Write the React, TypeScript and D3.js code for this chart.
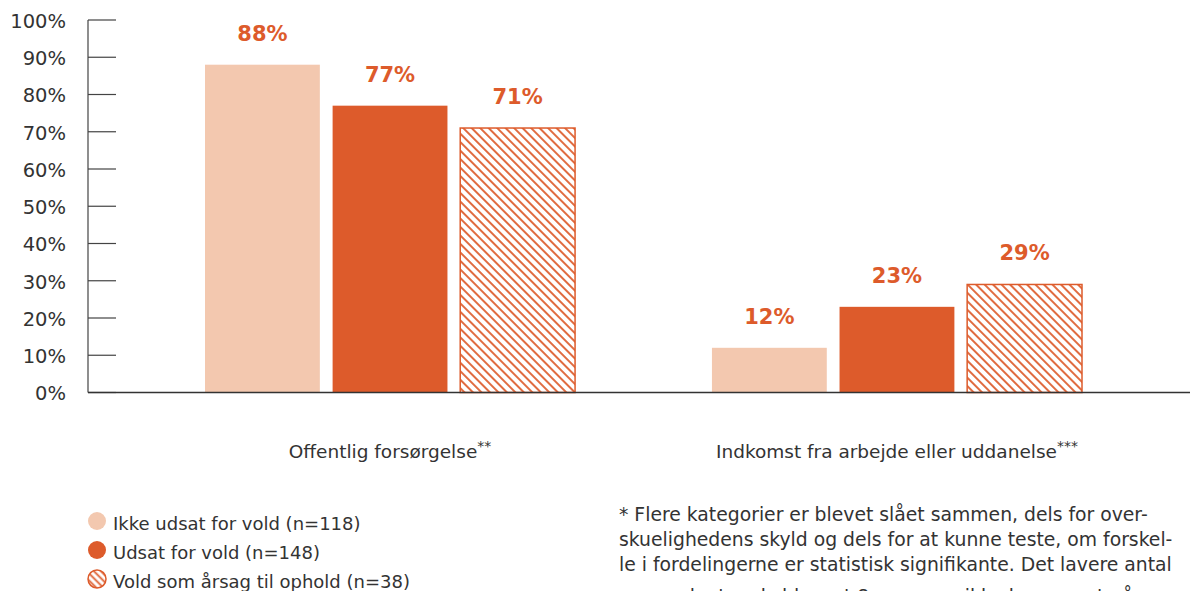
import React, { useEffect, useRef } from "react";
import * as d3 from "d3";

const categories = ["Offentlig forsørgelse", "Indkomst fra arbejde eller uddanelse"];
const categorySup = ["**", "***"];
const seriesNames = [
  "Ikke udsat for vold (n=118)",
  "Udsat for vold (n=148)",
  "Vold som årsag til ophold (n=38)",
];
const ikkeUdsat = [88, 12];
const udsat = [77, 23];
const voldAarsag = [71, 29];
const yTicks = [0, 10, 20, 30, 40, 50, 60, 70, 80, 90, 100];
const footnoteLines = [
  "* Flere kategorier er blevet slået sammen, dels for over-",
  "skuelighedens skyld og dels for at kunne teste, om forskel-",
  "le i fordelingerne er statistisk signifikante. Det lavere antal",
  "respondenter skyldes, at 8 personer ikke har svaret på",
];

const LIGHT = "#F3C8AF";
const ORANGE = "#DD5B2B";
const TEXT = "#333333";
const FONT = "'DejaVu Sans', sans-serif";

export default function App() {
  const ref = useRef<SVGSVGElement | null>(null);

  useEffect(() => {
    const svg = d3.select(ref.current);
    svg.selectAll("*").remove();
    const W = 1192, H = 591;

    const defs = svg.append("defs");
    const mkPattern = (id: string, size: number, sw: number) => {
      const p = defs
        .append("pattern")
        .attr("id", id)
        .attr("patternUnits", "userSpaceOnUse")
        .attr("width", size)
        .attr("height", size)
        .attr("patternTransform", "rotate(-45)");
      p.append("rect").attr("width", size).attr("height", size).attr("fill", "#fff");
      p.append("line").attr("x1", size / 2).attr("y1", 0).attr("x2", size / 2).attr("y2", size)
        .attr("stroke", ORANGE).attr("stroke-width", sw);
    };
    mkPattern("hatch", 6, 1.8);
    mkPattern("hatchL", 5, 1.8);

    const y = d3.scaleLinear().domain([0, 100]).range([392.5, 20]);
    const x0 = d3.scaleBand().domain(categories).range([205, 1082]).paddingInner(0.27).paddingOuter(0);
    const x1 = d3.scaleBand().domain(seriesNames).range([0, x0.bandwidth()]).paddingInner(0.1);

    const axisX = 88;
    svg.append("line").attr("x1", axisX).attr("x2", axisX).attr("y1", y(100)).attr("y2", y(0))
      .attr("stroke", "#444").attr("stroke-width", 1.2);
    yTicks.forEach((t) => {
      svg.append("line").attr("x1", axisX).attr("x2", 116).attr("y1", y(t)).attr("y2", y(t))
        .attr("stroke", "#444").attr("stroke-width", 1.2);
      svg.append("text").attr("x", 66).attr("y", y(t)).attr("dy", "0.4em")
        .attr("text-anchor", "end").attr("font-family", FONT).attr("font-size", 19.5)
        .attr("fill", TEXT).text(`${t}%`);
    });

    const series = [ikkeUdsat, udsat, voldAarsag];
    const fills = [LIGHT, ORANGE, "url(#hatch)"];
    categories.forEach((c, ci) => {
      series.forEach((vals, si) => {
        const v = vals[ci];
        const bx = (x0(c) as number) + (x1(seriesNames[si]) as number);
        svg.append("rect").attr("x", bx).attr("y", y(v)).attr("width", x1.bandwidth())
          .attr("height", y(0) - y(v)).attr("fill", fills[si])
          .attr("stroke", si === 2 ? ORANGE : "none").attr("stroke-width", si === 2 ? 1.5 : 0);
        svg.append("text").attr("x", bx + x1.bandwidth() / 2).attr("y", y(v) - 24)
          .attr("text-anchor", "middle").attr("font-family", FONT).attr("font-weight", "bold")
          .attr("font-size", 21).attr("fill", ORANGE).text(`${v}%`);
      });
      const cx = (x0(c) as number) + x0.bandwidth() / 2;
      const t = svg.append("text").attr("x", cx).attr("y", 458).attr("text-anchor", "middle")
        .attr("font-family", FONT).attr("font-size", 18.5).attr("fill", TEXT);
      t.append("tspan").text(c);
      t.append("tspan").attr("font-size", 14).attr("dy", -7).text(categorySup[ci]);
    });

    svg.append("line").attr("x1", axisX).attr("x2", 1190).attr("y1", y(0)).attr("y2", y(0))
      .attr("stroke", "#333").attr("stroke-width", 1.5);

    const legendFills = [LIGHT, ORANGE, "url(#hatchL)"];
    seriesNames.forEach((s, i) => {
      const ly = 521 + i * 29;
      svg.append("circle").attr("cx", 97).attr("cy", ly).attr("r", 9)
        .attr("fill", legendFills[i]).attr("stroke", i === 2 ? ORANGE : "none").attr("stroke-width", 1.5);
      svg.append("text").attr("x", 113).attr("y", ly + 8.5).attr("font-family", FONT)
        .attr("font-size", 18).attr("fill", TEXT).text(s);
    });

    footnoteLines.forEach((l, i) => {
      svg.append("text").attr("x", 619).attr("y", 521 + i * 25 + (i === 3 ? 7 : 0)).attr("font-family", FONT)
        .attr("font-size", 18.8).attr("fill", TEXT).text(l);
    });

    svg.attr("width", W).attr("height", H);
  }, []);

  return (
    <svg
      ref={ref}
      width={1192}
      height={591}
      style={{ position: "absolute", left: 0, top: 0, display: "block", background: "#fff" }}
    />
  );
}
